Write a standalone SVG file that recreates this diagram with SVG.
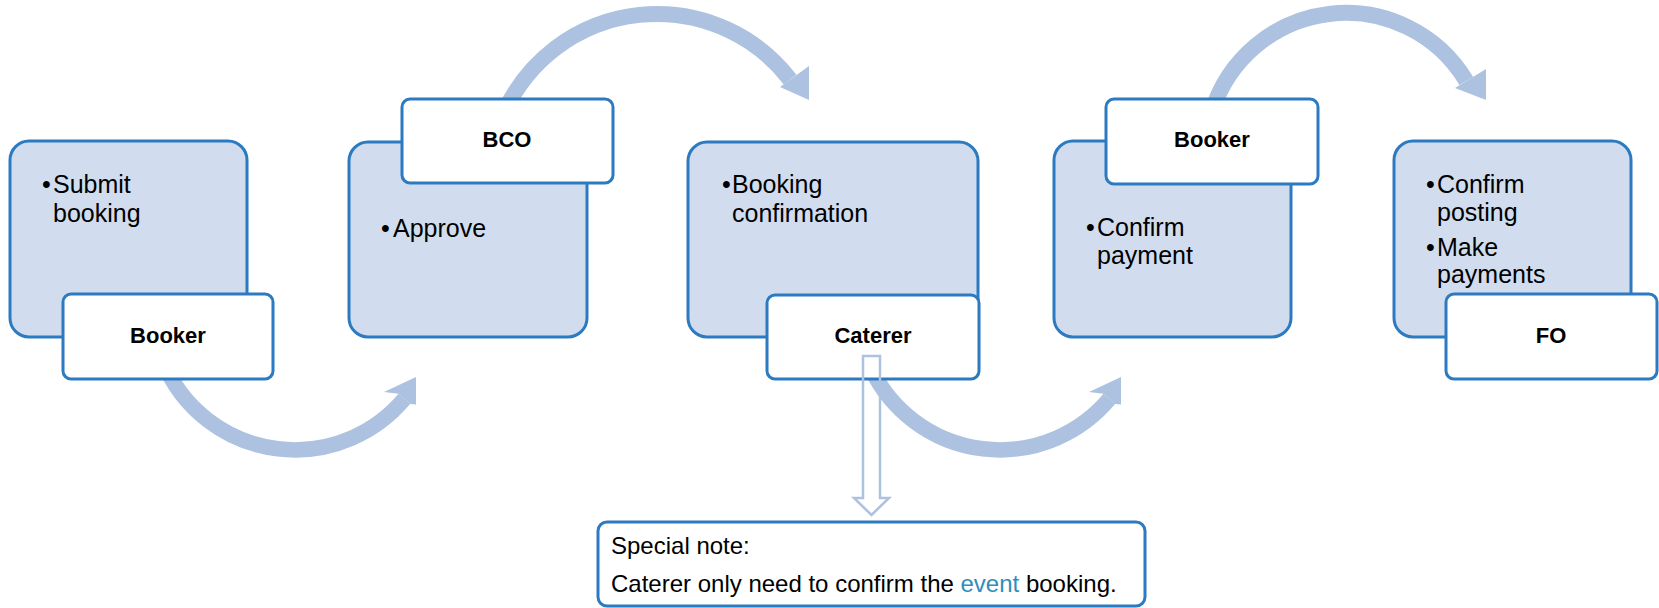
<svg xmlns="http://www.w3.org/2000/svg" width="1659" height="608" viewBox="0 0 1659 608">
<style>
.card{fill:#D1DDEE;stroke:#2C7BC1;stroke-width:3}
.lbl{fill:#FFFFFF;stroke:#2C7BC1;stroke-width:3}
.band{fill:none;stroke:#ADC2E0;stroke-linecap:butt}
.head{fill:#ADC2E0}
.t{font-family:"Liberation Sans",Arial,sans-serif;font-size:25px;fill:#000}
.b{font-family:"Liberation Sans",Arial,sans-serif;font-size:22px;font-weight:bold;fill:#000;text-anchor:middle}
.n{font-family:"Liberation Sans",Arial,sans-serif;font-size:24px;fill:#000}
.hollow{fill:none;stroke:#ADC2E0;stroke-width:2.5}
</style>
<rect width="1659" height="608" fill="#FFFFFF"/>
<g id="connectors">
  <path class="band" stroke-width="15.5" d="M166.8 370 A142.8 142.8 0 0 0 404.4 398.8"/>
  <polygon class="head" points="384,392 416,377 416,404.5 410.4,404 398.4,393.8"/>
  <path class="band" stroke-width="16" d="M505.4 110 A167.7 167.7 0 0 1 790.1 79.6"/>
  <polygon class="head" points="780,87 809,66 809,100"/>
  <path class="band" stroke-width="15.5" d="M871.8 370 A142.8 142.8 0 0 0 1109.4 398.8"/>
  <polygon class="head" points="1089,392 1121,377 1121,404.5 1115.4,404 1103.4,393.8"/>
  <path class="band" stroke-width="16" d="M1211.9 112 A140.3 140.3 0 0 1 1466.3 81"/>
  <polygon class="head" points="1455,88 1486,69 1486,100"/>
</g>
<g id="step1">
  <rect class="card" x="10" y="141" width="237" height="196" rx="19"/>
  <rect class="lbl" x="63" y="294" width="210" height="85" rx="8"/>
  <text class="t"><tspan x="42" y="193">•</tspan><tspan x="53" y="193">Submit</tspan><tspan x="53" y="222">booking</tspan></text>
  <text class="b" x="168" y="343">Booker</text>
</g>
<g id="step2">
  <rect class="card" x="349" y="142" width="238" height="195" rx="19"/>
  <rect class="lbl" x="402" y="99" width="211" height="84" rx="8"/>
  <text class="t"><tspan x="381" y="237">•</tspan><tspan x="393" y="237">Approve</tspan></text>
  <text class="b" x="507" y="147">BCO</text>
</g>
<g id="step3">
  <rect class="card" x="688" y="142" width="290" height="195" rx="19"/>
  <rect class="lbl" x="767" y="295" width="212" height="84" rx="8"/>
  <text class="t"><tspan x="722" y="193">•</tspan><tspan x="732" y="193">Booking</tspan><tspan x="732" y="222">confirmation</tspan></text>
  <text class="b" x="873" y="343">Caterer</text>
</g>
<g id="step4">
  <rect class="card" x="1054" y="141" width="237" height="196" rx="19"/>
  <rect class="lbl" x="1106" y="99" width="212" height="85" rx="8"/>
  <text class="t"><tspan x="1086" y="236">•</tspan><tspan x="1097" y="236">Confirm</tspan><tspan x="1097" y="264">payment</tspan></text>
  <text class="b" x="1212" y="147">Booker</text>
</g>
<g id="step5">
  <rect class="card" x="1394" y="141" width="237" height="196" rx="19"/>
  <rect class="lbl" x="1446" y="294" width="211" height="85" rx="8"/>
  <text class="t"><tspan x="1426" y="193">•</tspan><tspan x="1437" y="193">Confirm</tspan><tspan x="1437" y="221">posting</tspan><tspan x="1426" y="256">•</tspan><tspan x="1437" y="256">Make</tspan><tspan x="1437" y="283">payments</tspan></text>
  <text class="b" x="1551" y="343">FO</text>
</g>
<g id="note-connector">
  <path class="hollow" d="M863 356 H880 V498 H889 L871.5 515 L854 498 H863 Z"/>
</g>
<g id="note">
  <rect class="lbl" x="598" y="522" width="547" height="84" rx="9"/>
  <text class="n" x="611" y="554">Special note:</text>
  <text class="n" x="611" y="592">Caterer only need to confirm the <tspan fill="#308DBA">event</tspan> booking.</text>
</g>
</svg>
